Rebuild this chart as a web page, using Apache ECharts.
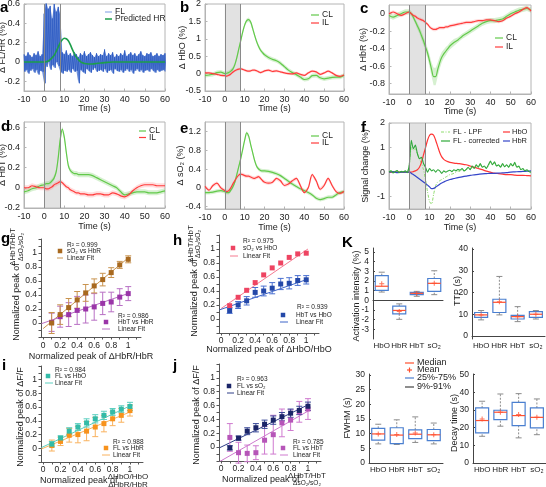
<!DOCTYPE html>
<html><head><meta charset="utf-8">
<script src="https://cdn.jsdelivr.net/npm/echarts@6/dist/echarts.min.js"></script>
<style>html,body{margin:0;padding:0;background:#fff}#c{width:546px;height:487px}</style>
</head><body><div id="c"></div><script>
const FF = '"Liberation Sans", Arial, Helvetica, sans-serif';
const TXT = '#222';

// ---------- time-series data (time in s) ----------
const T = [-10,-8,-6,-4,-2,0,1,2,3,4,5,6,7,8,9,10,11,12,13,14,15,16,17,18,19,20,22,24,26,28,30,32,34,36,38,40,42,44,46,48,50,52,54,56,58,60];
const STIM = [0, 8];
// panel a
const FL_T = [-10,-9,-8,-7,-6,-5,-4,-3,-2,-1,0,1,2,3,4,5,6,7,8,9,10,11,12,13,14,15,16,17,18,19,20,21,22,23,24,25,26,27,28,29,30,31,32,33,34,35,36,37,38,39,40,41,42,43,44,45,46,47,48,49,50,51,52,53,54,55,56,57,58,59,60];
const FL_HI = [0.08,0.06,0.1,0.07,0.05,0.09,0.07,0.11,0.06,0.08, 0.5,0.62,0.55,0.58,0.45,0.6,0.52,0.57,0.5,
  0.1,0.08,0.12,0.07,0.09,0.06,0.1,0.08,0.05,0.09, 0.07,0.11,0.06,0.08,0.1,0.07,0.05,0.09,0.06,0.08, 0.07,0.13,0.06,0.09,0.07,0.1,0.05,0.08,0.06,0.09, 0.07,0.12,0.06,0.08,0.1,0.07,0.09,0.06,0.08,0.11, 0.07,0.06,0.09,0.08,0.1,0.06,0.07,0.09,0.06,0.08, 0.07,0.09];
const FL_LO = [-0.1,-0.08,-0.12,-0.09,-0.07,-0.11,-0.08,-0.13,-0.09,-0.1, -0.22,-0.05,0.0,-0.08,-0.03,-0.06,0.0,-0.04,-0.1,
  -0.12,-0.09,-0.1,-0.08,-0.11,-0.07,-0.1,-0.09,-0.22,-0.08, -0.1,-0.12,-0.07,-0.09,-0.11,-0.08,-0.06,-0.1,-0.09,-0.08, -0.1,-0.07,-0.11,-0.09,-0.08,-0.12,-0.07,-0.09,-0.1,-0.08, -0.11,-0.09,-0.07,-0.1,-0.08,-0.12,-0.09,-0.07,-0.1,-0.08, -0.11,-0.09,-0.08,-0.1,-0.07,-0.09,-0.11,-0.08,-0.1,-0.09, -0.08,-0.1];
const A_HR = [0,0,0,0,0, 0,0.003,0.01,0.025,0.045,0.07,0.11,0.155,0.2,0.23,0.245,0.24,0.22,0.18,0.13,0.085,0.05,0.025,0.005,-0.008,-0.015, -0.02,-0.02,-0.015,-0.01,-0.006,-0.003,0,0,0,0,0,0,0,0,0,0,0,0,0,0];
// panel b (HbO)
const B_CL = [-0.05,-0.04,-0.02,0.03,0.04, 0.0,0.01,0.03,0.07,0.13,0.25,0.45,0.7,0.95,1.2,1.4,1.52,1.55,1.48,1.3,1.1,0.92,0.78,0.67,0.6,0.54, 0.46,0.41,0.37,0.3,0.2,0.1,0.03,-0.03,-0.1,-0.17,-0.15,-0.06,-0.05,-0.12,-0.15,-0.13,-0.11,-0.1,-0.1,-0.05];
const B_IL = [0.02,0.02,0.0,-0.02,-0.05, -0.06,-0.07,-0.05,-0.01,0.04,0.08,0.11,0.13,0.14,0.12,0.1,0.08,0.07,0.08,0.1,0.1,0.08,0.05,0.03,0.05,0.08, 0.1,0.06,0.08,0.05,0.02,0.0,-0.01,0.02,-0.02,-0.05,0.02,0.07,0.05,-0.02,0.02,0.07,0.02,-0.05,-0.08,-0.04];
// panel c (HbR)
const C_CL = [-0.02,-0.04,-0.02,0.0,0.02, 0.02,0.0,-0.04,-0.09,-0.14,-0.19,-0.25,-0.31,-0.38,-0.45,-0.54,-0.64,-0.72,-0.72,-0.64,-0.56,-0.5,-0.46,-0.43,-0.4,-0.37, -0.33,-0.3,-0.26,-0.23,-0.2,-0.17,-0.14,-0.11,-0.09,-0.08,-0.08,-0.07,-0.06,-0.03,0.0,0.02,0.04,0.05,0.06,0.04];
const C_CL_SEM = [0.03,0.03,0.03,0.03,0.03, 0.03,0.03,0.03,0.03,0.04,0.04,0.05,0.05,0.06,0.06,0.07,0.08,0.1,0.1,0.08,0.07,0.06,0.05,0.05,0.04,0.04, 0.04,0.03,0.03,0.03,0.03,0.03,0.03,0.03,0.03,0.03,0.03,0.03,0.03,0.03,0.03,0.03,0.03,0.03,0.03,0.03];
const C_IL = [0.0,0.02,0.0,-0.02,0.0, 0.02,0.0,-0.02,-0.03,-0.05,-0.06,-0.07,-0.08,-0.1,-0.12,-0.15,-0.17,-0.18,-0.18,-0.17,-0.16,-0.16,-0.16,-0.15,-0.15,-0.14, -0.13,-0.12,-0.11,-0.1,-0.1,-0.09,-0.08,-0.08,-0.07,-0.07,-0.08,-0.09,-0.08,-0.05,-0.03,0.0,0.02,0.05,0.07,0.03];
// panel d (HbT)
const D_CL = [-0.04,-0.03,-0.01,0.0,0.02, 0.03,0.04,0.04,0.05,0.07,0.1,0.16,0.3,0.48,0.58,0.5,0.35,0.22,0.17,0.15,0.14,0.14,0.13,0.13,0.13,0.13, 0.13,0.12,0.1,0.08,0.06,0.04,0.02,0.0,-0.04,-0.07,-0.06,-0.05,-0.04,-0.04,-0.04,-0.05,-0.05,-0.05,-0.04,-0.03];
const D_IL = [0.0,0.0,0.02,0.01,0.0, 0.0,-0.01,-0.01,0.0,0.01,0.03,0.04,0.05,0.06,0.05,0.03,0.01,0.0,-0.02,-0.03,-0.04,-0.05,-0.05,-0.06,-0.06,-0.06, -0.07,-0.07,-0.06,-0.06,-0.07,-0.07,-0.05,-0.06,-0.08,-0.09,-0.07,-0.03,0.0,0.02,0.03,0.03,0.03,0.02,0.02,0.02];
// panel e (sO2)
const E_CL = [-0.1,-0.1,-0.09,-0.07,-0.06, -0.08,-0.1,-0.1,-0.05,0.02,0.12,0.28,0.45,0.62,0.82,1.02,1.17,1.1,0.92,0.75,0.58,0.46,0.4,0.37,0.36,0.36, 0.35,0.33,0.3,0.26,0.2,0.14,0.08,0.03,-0.02,-0.06,-0.1,-0.15,-0.22,-0.25,-0.23,-0.2,-0.2,-0.15,-0.1,-0.08];
const E_IL = [0.03,-0.05,0.05,0.1,0.0, -0.06,-0.08,-0.06,0.0,0.08,0.15,0.22,0.27,0.29,0.28,0.26,0.25,0.25,0.23,0.21,0.2,0.22,0.24,0.2,0.15,0.12, 0.1,0.12,0.2,0.15,0.05,0.08,0.15,0.2,0.05,-0.1,0.0,0.28,0.15,-0.03,0.05,0.2,0.05,-0.08,-0.12,-0.08];
// panel f
const F_HBO = [0,0,0,0,0, 0.0,0.0,0.02,0.05,0.1,0.2,0.4,0.7,1.0,1.3,1.5,1.55,1.5,1.3,1.05,0.8,0.62,0.52,0.46,0.43,0.4, 0.37,0.35,0.33,0.3,0.25,0.2,0.15,0.1,0.04,0.0,-0.04,-0.06,-0.08,-0.1,-0.1,-0.12,-0.13,-0.13,-0.14,-0.15];
const F_HBR = [0.0,0.02,-0.02,0.0,0.0, 0.0,-0.05,-0.1,-0.16,-0.22,-0.28,-0.34,-0.4,-0.46,-0.53,-0.6,-0.67,-0.66,-0.61,-0.55,-0.49,-0.44,-0.4,-0.36,-0.33,-0.3, -0.26,-0.22,-0.19,-0.16,-0.13,-0.11,-0.09,-0.07,-0.06,-0.05,-0.05,-0.04,-0.03,-0.02,0.0,0.01,0.02,0.03,0.04,0.05];
const F_COR = [0.0,0.05,-0.03,0.02,0.06,-0.02,0.03,0.0,0.05,-0.02, 0.3,1.3,0.95,1.1,0.75,0.55,0.6,0.35,0.2,0.0, 0.15,0.05,0.1,0.0,0.1,0.05,-0.05,0.05,0.0,0.05, 0.08,0.02,0.1,0.05,0.12,0.08,0.15,0.05,0.1,0.2, 0.1,0.25,0.15,0.3,0.2,0.35,0.2,0.25,0.15,0.3, 0.45,0.3,0.42,0.25,0.3,0.2,0.35,0.22,0.3,0.2, 0.35,0.25,0.4,0.2,0.25,0.1,0.15,0.05,0.1,0.02,0.0];
const F_LPF = [0.02,0.04,0.0,0.03,0.05,0.0,0.02,0.01,0.04,0.0, 0.3,1.0,0.9,0.95,0.75,0.55,0.35,0.1,-0.3,-0.8, -1.2,-1.3,-0.9,-0.55,-0.4,-0.35,-0.3,-0.25,-0.2,-0.15, -0.1,-0.08,-0.05,0.0,0.05,0.03,0.1,0.05,0.1,0.15, 0.1,0.2,0.15,0.25,0.2,0.3,0.2,0.22,0.15,0.25, 0.4,0.3,0.38,0.25,0.28,0.2,0.3,0.22,0.28,0.2, 0.3,0.25,0.35,0.2,0.22,0.1,0.12,0.05,0.08,0.02,0.0];

// ---------- scatter data ----------
const GX = [0.1,0.2,0.3,0.4,0.5,0.6,0.7,0.8,0.9,1.0];
const G_SO2 = [0.0,0.12,0.22,0.33,0.43,0.53,0.62,0.72,0.83,0.91];
const G_SO2_ERR = [0.15,0.14,0.13,0.12,0.12,0.1,0.09,0.07,0.05,0.05];
const G_HBT = [0.01,0.09,0.12,0.18,0.2,0.23,0.28,0.3,0.37,0.42];
const G_HBT_ERR = [0.13,0.15,0.17,0.2,0.2,0.19,0.16,0.14,0.12,0.1];
const G_FIT_SO2 = [[0,-0.08],[1.0,0.93]];
const G_FIT_HBT = [[-0.02,-0.01],[1.02,0.43]];
const H_SO2 = [0.19,0.31,0.41,0.52,0.63,0.73,0.8,0.88,0.93,0.94];
const H_HBT = [0.12,0.2,0.26,0.38,0.4,0.44,0.5,0.51,0.55,0.56];
const H_HBT_ERR = [0.04,0.05,0.06,0.07,0.07,0.08,0.08,0.08,0.07,0.06];
const H_FIT_SO2 = [[0,0.15],[1.02,1.0]];
const H_FIT_HBT = [[-0.02,0.13],[1.02,0.57]];
const I_HBO = [0.06,0.15,0.25,0.31,0.37,0.43,0.48,0.53,0.57,0.61];
const I_HBO_ERR = [0.04,0.03,0.05,0.05,0.06,0.06,0.06,0.05,0.05,0.06];
const I_HBR = [0.04,0.1,0.19,0.2,0.25,0.31,0.36,0.43,0.48,0.55];
const I_HBR_ERR = [0.08,0.06,0.1,0.12,0.14,0.14,0.12,0.1,0.1,0.08];
const I_FIT_HBO = [[-0.02,0.01],[1.02,0.63]];
const I_FIT_HBR = [[-0.02,-0.01],[1.02,0.54]];
const J_SO2 = [-0.01,0.13,0.23,0.28,0.33,0.39,0.44,0.49,0.53,0.59];
const J_SO2_ERR = [0.03,0.03,0.05,0.06,0.06,0.06,0.06,0.06,0.06,0.06];
const J_HBT = [0.14,-0.08,-0.09,-0.08,0.1,0.18,0.35,0.39,0.51,0.55];
const J_HBT_ERR = [0.2,0.15,0.12,0.1,0.2,0.28,0.2,0.15,0.15,0.15];
const J_FIT_SO2 = [[-0.02,-0.01],[1.0,0.61]];
const J_FIT_HBT = [[-0.02,-0.21],[1.0,0.52]];
const SC_TICKS = [0,0.2,0.4,0.6,0.8,1];
const SC_XMINOR = [0,0.1,0.2,0.3,0.4,0.5,0.6,0.7,0.8,0.9,1,1.1];
const SC_YMINOR = [-0.2,-0.1,0,0.1,0.2,0.3,0.4,0.5,0.6,0.7,0.8,0.9,1,1.1,1.2];

// ---------- box data [min, q1, median, q3, max] ----------
const CATS = ['HbO','HbR','HbT','sO\u2082'];
const ACT_BOX = [[0.85,1.02,1.45,2.55,2.9],[-1.97,-1.4,-1.05,-0.6,-0.37],[0.41,0.58,0.72,0.82,0.92],[0.58,0.92,1.75,2.25,3.05]];
const ACT_MEAN = [1.7,-1.15,0.7,1.75];
const TTP_BOX = [[7.4,8.6,9.7,10.8,11.7],[9.7,10.8,15.5,16.9,27.4],[6.6,7.8,8.9,9.5,13.5],[7.8,8.6,10,11.2,11.7]];
const TTP_MEAN = [9.7,15.8,8.9,10];
const FWHM_BOX = [[6.5,7.8,9.9,11.8,13.2],[6.3,6.6,9.5,12,14.7],[7,8.3,9.8,11.3,15.7],[6.5,7.6,9.6,11.4,13.6]];
const FWHM_MEAN = [9.9,9.7,10.2,9.6];
const DEC_BOX = [[15.1,17,24,31.1,34.9],[20.8,24.5,28.7,29.8,39],[14.2,21.1,26.8,34.3,39.2],[16,19.8,25.8,31.1,36.2]];
const DEC_MEAN = [24.9,28.7,27.4,25.8];

// ---------- colours ----------
const CLc = '#62c94a', ILc = '#ff3b3b';
const CLb = 'rgba(120,205,100,0.3)', ILb = 'rgba(255,120,120,0.25)';
const BOXB = '#4a7fd0', BOXR = '#ff5030';

const grids = [], xAxes = [], yAxes = [], series = [], graphics = [];

function tsPanel(o) {
  const gi = grids.length, axc = '#b4b4b4';
  grids.push({left:o.l, top:o.t, width:o.w, height:o.h, show:true, borderColor:axc, borderWidth:1, backgroundColor:'rgba(0,0,0,0)', containLabel:false, outerBoundsMode:'none'});
  xAxes.push({gridIndex:gi, type:'value', min:-10, max:60, interval:10,
    axisLine:{show:true, onZero:false, lineStyle:{color:axc}},
    axisTick:{show:true, inside:true, length:2.5, lineStyle:{color:axc}},
    axisLabel:{fontSize:9, color:TXT, margin:4, fontFamily:FF, showMinLabel:true, showMaxLabel:true, hideOverlap:false},
    splitLine:{show:false}, name:'Time (s)', nameLocation:'middle', nameGap:o.xng, nameMoveOverlap:false,
    nameTextStyle:{fontSize:9, color:TXT, fontFamily:FF}});
  yAxes.push({gridIndex:gi, type:'value', min:o.ymin, max:o.ymax,
    axisLine:{show:true, onZero:false, lineStyle:{color:axc}},
    axisTick:{show:true, inside:true, length:2.5, customValues:o.yt, lineStyle:{color:axc}},
    axisLabel:{fontSize:9, color:TXT, margin:4, fontFamily:FF, customValues:o.yt, hideOverlap:false},
    splitLine:{show:false}, name:o.yn, nameLocation:'middle', nameGap:o.yng, nameMoveOverlap:false,
    nameTextStyle:{fontSize:9, color:TXT, fontFamily:FF}});
  const dummy = {type:'line', xAxisIndex:gi, yAxisIndex:gi, data:[[-100,-100]], symbol:'none', lineStyle:{opacity:0}, silent:true, animation:false, z:1, clip:true,
    markLine:{silent:true, symbol:'none', animation:false, label:{show:false}, lineStyle:{color:'#8a8a8a', type:'solid', width:1}, data:[{xAxis:STIM[0]},{xAxis:STIM[1]}]}};
  if (o.shade) dummy.markArea = {silent:true, animation:false, itemStyle:{color:'rgba(190,190,190,0.45)'}, data:[[{xAxis:STIM[0]},{xAxis:STIM[1]}]]};
  series.push(dummy);
  return gi;
}
function curve(gi, xs, ys, color, w, extra) {
  series.push(Object.assign({type:'line', xAxisIndex:gi, yAxisIndex:gi, data:xs.map((x,i)=>[x,ys[i]]), symbol:'none', showSymbol:false, smooth:0.3,
    lineStyle:{color:color, width:w}, itemStyle:{color:color}, silent:true, animation:false, z:3, clip:true}, extra||{}));
}
function bandLH(gi, xs, lo, hi, fill, z) {
  series.push({type:'custom', xAxisIndex:gi, yAxisIndex:gi, data:[[xs[0], lo[0]]], silent:true, animation:false, z:z||2, clip:true,
    renderItem:function(p, api){
      const up=[], dn=[];
      for (let i=0;i<xs.length;i++){ up.push(api.coord([xs[i], hi[i]])); dn.unshift(api.coord([xs[i], lo[i]])); }
      return {type:'polygon', shape:{points:up.concat(dn)}, style:{fill:fill}};
    }});
}
function band(gi, xs, ys, sem, fill) {
  series.push({type:'custom', xAxisIndex:gi, yAxisIndex:gi, data:[[xs[0], ys[0]]], silent:true, animation:false, z:2, clip:true,
    renderItem:function(p, api){
      const up=[], dn=[];
      for (let i=0;i<xs.length;i++){ const s = Array.isArray(sem)?sem[i]:sem; up.push(api.coord([xs[i], ys[i]+s])); dn.unshift(api.coord([xs[i], ys[i]-s])); }
      return {type:'polygon', shape:{points:up.concat(dn)}, style:{fill:fill}};
    }});
}
function scPanel(o) {
  const gi = grids.length, axc = '#555';
  grids.push({left:o.l, top:o.t, width:o.w, height:o.h, show:false, containLabel:false, outerBoundsMode:'none'});
  xAxes.push({gridIndex:gi, type:'value', min:-0.025, max:1.15,
    axisLine:{show:true, onZero:false, lineStyle:{color:axc}},
    axisTick:{show:true, length:2.5, customValues:SC_XMINOR, lineStyle:{color:axc}},
    axisLabel:{fontSize:8.5, color:TXT, margin:o.xm, fontFamily:FF, customValues:SC_TICKS, hideOverlap:false},
    splitLine:{show:false}, name:o.xn||'', nameLocation:'middle', nameGap:o.xng||15, nameMoveOverlap:false,
    nameTextStyle:{fontSize:9, color:TXT, fontFamily:FF}});
  yAxes.push({gridIndex:gi, type:'value', min:-0.2, max:1.2,
    axisLine:{show:true, onZero:false, lineStyle:{color:axc}},
    axisTick:{show:true, length:2.5, customValues:SC_YMINOR, lineStyle:{color:axc}},
    axisLabel:{fontSize:8.5, color:TXT, margin:4, fontFamily:FF, customValues:SC_TICKS, hideOverlap:false},
    splitLine:{show:false}});
  return gi;
}
function pts(gi, xs, ys, color) {
  series.push({type:'scatter', xAxisIndex:gi, yAxisIndex:gi, data:xs.map((x,i)=>[x,ys[i]]), symbol:'rect', symbolSize:5, itemStyle:{color:color, opacity:1}, silent:true, animation:false, z:5});
}
function errs(gi, xs, ys, es, color) {
  series.push({type:'custom', xAxisIndex:gi, yAxisIndex:gi, data:xs.map((x,i)=>[x, ys[i]-es[i], ys[i]+es[i]]), encode:{x:0, y:[1,2]}, silent:true, animation:false, z:4,
    renderItem:function(p, api){
      const x = api.value(0), lo = api.coord([x, api.value(1)]), hi = api.coord([x, api.value(2)]), cw = 3, st = {stroke:color, lineWidth:1};
      return {type:'group', children:[
        {type:'line', shape:{x1:lo[0],y1:lo[1],x2:hi[0],y2:hi[1]}, style:st},
        {type:'line', shape:{x1:lo[0]-cw,y1:lo[1],x2:lo[0]+cw,y2:lo[1]}, style:st},
        {type:'line', shape:{x1:hi[0]-cw,y1:hi[1],x2:hi[0]+cw,y2:hi[1]}, style:st}]};
    }});
}
function fit(gi, pts2, color) {
  series.push({type:'line', xAxisIndex:gi, yAxisIndex:gi, data:pts2, symbol:'none', lineStyle:{color:color, width:1}, silent:true, animation:false, z:3});
}
const PLUS = 'path://M4,0H6V4H10V6H6V10H4V6H0V4H4Z';
function boxRender(p, api) {
  const i = api.value(0);
  const mn = api.coord([i, api.value(1)]), q1 = api.coord([i, api.value(2)]), md = api.coord([i, api.value(3)]), q3 = api.coord([i, api.value(4)]), mx = api.coord([i, api.value(5)]);
  const x = mn[0], hw = 6.5, cw = 3, G = '#8c8c8c';
  return {type:'group', children:[
    {type:'line', shape:{x1:x,y1:q3[1],x2:x,y2:mx[1]}, style:{stroke:G, lineWidth:1, lineDash:[2,1.5]}},
    {type:'line', shape:{x1:x,y1:mn[1],x2:x,y2:q1[1]}, style:{stroke:G, lineWidth:1, lineDash:[2,1.5]}},
    {type:'line', shape:{x1:x-cw,y1:mx[1],x2:x+cw,y2:mx[1]}, style:{stroke:G, lineWidth:1}},
    {type:'line', shape:{x1:x-cw,y1:mn[1],x2:x+cw,y2:mn[1]}, style:{stroke:G, lineWidth:1}},
    {type:'rect', shape:{x:x-hw, y:q3[1], width:2*hw, height:q1[1]-q3[1]}, style:{stroke:BOXB, fill:'none', lineWidth:1.2}},
    {type:'line', shape:{x1:x-hw,y1:md[1],x2:x+hw,y2:md[1]}, style:{stroke:BOXR, lineWidth:1.2}}]};
}
function boxPanel(o) {
  const gi = grids.length, axc = '#444';
  grids.push({left:o.l, top:o.t, width:o.w, height:o.h, show:false, containLabel:false, outerBoundsMode:'none'});
  xAxes.push({gridIndex:gi, type:'category', data:CATS, axisLine:{show:true, lineStyle:{color:axc}}, axisTick:{show:false},
    axisLabel:{fontSize:8, color:TXT, margin:2.5, fontFamily:FF, interval:0, hideOverlap:false}, splitLine:{show:false}});
  yAxes.push({gridIndex:gi, type:'value', min:o.ymin, max:o.ymax,
    axisLine:{show:true, onZero:false, lineStyle:{color:axc}},
    axisTick:{show:true, inside:true, length:2, customValues:o.yt, lineStyle:{color:axc}},
    axisLabel:{customValues:o.yt, fontSize:8.5, color:TXT, margin:4, fontFamily:FF, hideOverlap:false}, splitLine:{show:false}});
  series.push({type:'custom', xAxisIndex:gi, yAxisIndex:gi, data:o.box.map((b,i)=>[i].concat(b)), encode:{x:0, y:[1,2,3,4,5]}, silent:true, animation:false, z:3, renderItem:boxRender});
  series.push({type:'scatter', xAxisIndex:gi, yAxisIndex:gi, data:o.mean.map((m,i)=>[i,m]), symbol:PLUS, symbolSize:5, itemStyle:{color:BOXR}, silent:true, animation:false, z:5});
}
function txt(x, y, s, o) {
  o = o || {};
  const a = o.a || 'left';
  graphics.push({type:'text', x:x, y:y, rotation:o.rot ? Math.PI/2 : 0, silent:true, z:100,
    style:{text:s, fill:o.c||TXT, font:(o.w||'normal')+' '+(o.fs||9)+'px '+FF, textAlign:a, align:a, textVerticalAlign:'middle', verticalAlign:'middle'}});
}
function seg(x1, y1, x2, y2, c, w, dash) {
  graphics.push({type:'line', silent:true, z:100, shape:{x1:x1,y1:y1,x2:x2,y2:y2}, style:{stroke:c, lineWidth:w||1, lineDash:dash||null}});
}
function sq(x, y, c) {
  graphics.push({type:'rect', silent:true, z:100, shape:{x:x-2.25,y:y-2.25,width:4.5,height:4.5}, style:{fill:c}});
}

// ---------- panel a ----------
let g = tsPanel({l:24,t:4,w:141,h:87, ymin:-0.3, ymax:0.6, yt:[-0.2,0,0.2,0.4,0.6], yn:'\u0394 FL/HR (%)', yng:17, xng:13, shade:false});
bandLH(g, FL_T, FL_LO, FL_HI, 'rgba(52,100,205,0.7)', 2);
const flPts = [];
FL_T.forEach((t,i)=>{ flPts.push([t, FL_HI[i]]); flPts.push([t+0.5, FL_LO[i]]); });
series.push({type:'line', xAxisIndex:g, yAxisIndex:g, data:flPts, symbol:'none', lineStyle:{color:'#2a58c0', width:0.8}, silent:true, animation:false, z:2, clip:true});
curve(g, T, A_HR, '#1d9e4a', 1.6);
// ---------- panel b ----------
g = tsPanel({l:205,t:4,w:139,h:87, ymin:-0.5, ymax:2, yt:[-0.5,0,0.5,1,1.5,2], yn:'\u0394 HbO (%)', yng:18, xng:13, shade:true});
band(g, T, B_CL, 0.06, CLb); band(g, T, B_IL, 0.04, ILb);
curve(g, T, B_CL, CLc, 1.2); curve(g, T, B_IL, ILc, 1.2);
// ---------- panel c ----------
g = tsPanel({l:389,t:5,w:142,h:89, ymin:-0.92, ymax:0.1, yt:[-0.8,-0.6,-0.4,-0.2,0], yn:'\u0394 HbR (%)', yng:20.5, xng:13, shade:true});
band(g, T, C_CL, C_CL_SEM, CLb); band(g, T, C_IL, 0.02, ILb);
curve(g, T, C_CL, CLc, 1.2); curve(g, T, C_IL, ILc, 1.2);
// ---------- panel d ----------
g = tsPanel({l:24,t:122,w:141,h:86, ymin:-0.2, ymax:0.65, yt:[-0.2,0,0.2,0.4,0.6], yn:'\u0394 HbT (%)', yng:17, xng:14, shade:true});
band(g, T, D_CL, 0.025, CLb); band(g, T, D_IL, 0.025, ILb);
curve(g, T, D_CL, CLc, 1.2); curve(g, T, D_IL, ILc, 1.2);
// ---------- panel e ----------
g = tsPanel({l:205,t:122,w:139,h:87, ymin:-0.45, ymax:1.4, yt:[-0.4,0,0.4,0.8,1.2], yn:'\u0394 sO\u2082 (%)', yng:20, xng:14, shade:true});
band(g, T, E_CL, 0.04, CLb); band(g, T, E_IL, 0.04, ILb);
curve(g, T, E_CL, CLc, 1.2); curve(g, T, E_IL, ILc, 1.2);
// ---------- panel f ----------
g = tsPanel({l:389,t:123,w:142,h:86, ymin:-1.5, ymax:2, yt:[-1,0,1,2], yn:'Signal change (%)', yng:19, xng:14, shade:true});
curve(g, FL_T, F_LPF, '#8fdc6e', 1, {lineStyle:{color:'#8fdc6e', width:1, type:[3,1.5,1,1.5]}, smooth:0.2});
curve(g, T, F_HBO, '#ff3535', 1.2);
curve(g, T, F_HBR, '#3445c8', 1.2);
curve(g, FL_T, F_COR, '#2fa83a', 1.1, {smooth:0.2});

// ---------- panel g ----------
g = scPanel({l:41,t:239,w:100,h:98, xm:4, xn:'Normalized peak of \u0394HbR/HbR', xng:15});
fit(g, G_FIT_SO2, '#c99450'); fit(g, G_FIT_HBT, '#b870c4');
errs(g, GX, G_HBT, G_HBT_ERR, '#b870c4'); errs(g, GX, G_SO2, G_SO2_ERR, '#c99450');
pts(g, GX, G_HBT, '#9a35a8'); pts(g, GX, G_SO2, '#a8691f');
// ---------- panel h ----------
g = scPanel({l:219,t:235,w:100,h:98, xm:3, xn:'Normalized peak of \u0394HbO/HbO', xng:12});
fit(g, H_FIT_SO2, '#f57a90'); fit(g, H_FIT_HBT, '#3d64c8');
errs(g, GX, H_HBT, H_HBT_ERR, '#4a70d0');
pts(g, GX, H_SO2, '#ee4462'); pts(g, GX, H_HBT, '#2448a8');
// ---------- panel i ----------
g = scPanel({l:41,t:366,w:102,h:96, xm:3});
fit(g, I_FIT_HBO, '#5ccfc0'); fit(g, I_FIT_HBR, '#f9b25e');
errs(g, GX, I_HBR, I_HBR_ERR, '#f9b25e'); errs(g, GX, I_HBO, I_HBO_ERR, '#5ccfc0');
pts(g, GX, I_HBR, '#f7921c'); pts(g, GX, I_HBO, '#33bba8');
// ---------- panel j ----------
g = scPanel({l:219,t:364,w:102,h:97, xm:3});
fit(g, J_FIT_SO2, '#2f3f88'); fit(g, J_FIT_HBT, '#cf7acf');
errs(g, GX, J_HBT, J_HBT_ERR, '#cf7acf'); errs(g, GX, J_SO2, J_SO2_ERR, '#3a4a98');
pts(g, GX, J_HBT, '#b655b8'); pts(g, GX, J_SO2, '#1b2568');

// ---------- panel K ----------
boxPanel({l:373,t:248,w:70,h:91, ymin:-4, ymax:5.4, yt:[-3,-2,-1,0,1,2,3,4,5], box:ACT_BOX, mean:ACT_MEAN});
boxPanel({l:472,t:248,w:73,h:91, ymin:-1.4, ymax:40.5, yt:[0,10,20,30,40], box:TTP_BOX, mean:TTP_MEAN});
boxPanel({l:369,t:374,w:74,h:89, ymin:0, ymax:30.3, yt:[0,5,10,15,20,25,30], box:FWHM_BOX, mean:FWHM_MEAN});
boxPanel({l:473,t:374,w:73,h:89, ymin:0, ymax:50.3, yt:[0,10,20,30,40,50], box:DEC_BOX, mean:DEC_MEAN});

// ---------- text / legends ----------
const L = {fs:15, w:'bold', c:'#000'};
txt(0,8,'a',L); txt(180,8,'b',L); txt(360,8.5,'c',L);
txt(1,126.5,'d',L); txt(180,128.5,'e',L); txt(361,128,'f',L);
txt(1,238.5,'g',L); txt(173,240.5,'h',L); txt(342,242.5,'K',L);
txt(2,365.5,'i',L); txt(173,365.5,'j',L);

seg(105,12,112,12,'#7b9be3',1); txt(115,12,'FL',{fs:8.5});
seg(105,19,112,19,'#1d9e4a',1.5); txt(115,19,'Predicted HR',{fs:8.5});
seg(311,15,319,15,CLc,1.2); txt(322,15,'CL',{fs:8.5}); seg(311,23,319,23,ILc,1.2); txt(322,23,'IL',{fs:8.5});
seg(495,38,503,38,CLc,1.2); txt(506,38,'CL',{fs:8.5}); seg(495,47,503,47,ILc,1.2); txt(506,47,'IL',{fs:8.5});
seg(139,131,146,131,CLc,1.2); txt(149,131,'CL',{fs:8.5}); seg(139,137.5,146,137.5,ILc,1.2); txt(149,137.5,'IL',{fs:8.5});
seg(311,136,319,136,CLc,1.2); txt(322,136,'CL',{fs:8.5}); seg(311,143,319,143,ILc,1.2); txt(322,143,'IL',{fs:8.5});
const FLEG = {fs:7.5};
seg(441,132,450,132,'#8fdc6e',1,[3,1.5,1,1.5]); txt(453,132,'FL - LPF',FLEG);
seg(503,132,510,132,'#ff3535',1.2); txt(512,132,'HbO',FLEG);
seg(441,141,450,141,'#2fa83a',1.2); txt(453,141,'FL - corrected',FLEG);
seg(503,141,510,141,'#3445c8',1.2); txt(512,141,'HbR',FLEG);

const S = {fs:6.5};
txt(67,245,'R\u00b2 = 0.999',S); sq(60,251,'#a8691f'); txt(67,251,'sO\u2082 vs HbR',S); seg(57,258,63,258,'#c99450'); txt(67,258,'Linear Fit',S);
txt(118,316,'R\u00b2 = 0.986',S); sq(106,322,'#9a35a8'); txt(118,322,'HbT vs HbR',S); seg(102,329,110,329,'#b870c4'); txt(118,329,'Linear Fit',S);
txt(243,241,'R\u00b2 = 0.975',S); sq(233,248,'#ee4462'); txt(243,248,'sO\u2082 vs HbO',S); seg(230,256,238,256,'#f57a90'); txt(243,256,'Linear Fit',S);
txt(297,307,'R\u00b2 = 0.939',S); sq(283,315,'#2448a8'); txt(296,315,'HbT vs HbO',S); seg(280,322,288,322,'#3d64c8'); txt(296,322,'Linear Fit',S);
txt(55,370,'R\u00b2 = 0.984',S); sq(48,376,'#33bba8'); txt(55,376,'FL vs HbO',S); seg(45,383,53,383,'#5ccfc0'); txt(55,383,'Linear Fit',S);
txt(113,442,'R\u00b2 = 0.988',S); sq(106,448,'#f7921c'); txt(113,448,'FL vs HbR',S); seg(102,455,110,455,'#f9b25e'); txt(113,455,'Linear Fit',S);
txt(237,379,'R\u00b2 = 0.963',S); sq(229,386,'#1b2568'); txt(237,386,'FL vs sO\u2082',S); seg(227,393,234,393,'#2f3f88'); txt(237,393,'Linear Fit',S);
txt(293,442,'R\u00b2 = 0.785',S); sq(283,448,'#b655b8'); txt(293,448,'FL vs HbT',S); seg(280,455,288,455,'#cf7acf'); txt(293,455,'Linear Fit',S);

const R = {rot:true, a:'center', fs:9};
txt(17,302,'Normalized peak of',R); txt(13,247,'\u0394HbT/HbT',{rot:true,a:'center',fs:8}); txt(21,247,'\u0394sO\u2082/sO\u2082',{rot:true,a:'center',fs:6.5});
txt(195,298,'Normalized peak of',R); txt(191,244,'\u0394HbT/HbT',{rot:true,a:'center',fs:8}); txt(198,244,'\u0394sO\u2082/sO\u2082',{rot:true,a:'center',fs:6.5});
txt(21,417,'Normalized peak of \u0394F/F',R);
txt(197,415,'Normalized peak of \u0394F/F',R);
txt(40,480.5,'Normalized peak of',{fs:9}); txt(128,476.5,'\u0394HbO/HbO',{a:'center',fs:8}); txt(128,484.5,'\u0394HbR/HbR',{a:'center',fs:8});
txt(222,479.5,'Normalized peak of',{fs:9}); txt(307,475.5,'\u0394HbT/HbT',{a:'center',fs:8}); txt(307,483.5,'\u0394sO\u2082/sO\u2082',{a:'center',fs:6.5});
txt(357,296,'Activation intensity (%)',R); txt(458,291,'TTP (s)',R); txt(348,418,'FWHM (s)',R); txt(455,423,'Decay time (s)',R);

seg(405,363,414,363,BOXR,1.2); txt(417,363,'Median');
seg(407,370,412,370,BOXR,1.2); seg(409.5,367.5,409.5,372.5,BOXR,1.2); txt(417,370,'Mean');
seg(405,378,414,378,BOXB,1.2); txt(417,378,'25%-75%');
seg(405,387,414,387,'#444',1.2); txt(417,387,'9%-91%');

const chart = echarts.init(document.getElementById('c'), null, {renderer:'canvas'});
chart.setOption({animation:false, backgroundColor:'#fff', grid:grids, xAxis:xAxes, yAxis:yAxes, series:series, graphic:{elements:graphics}});
</script></body></html>
